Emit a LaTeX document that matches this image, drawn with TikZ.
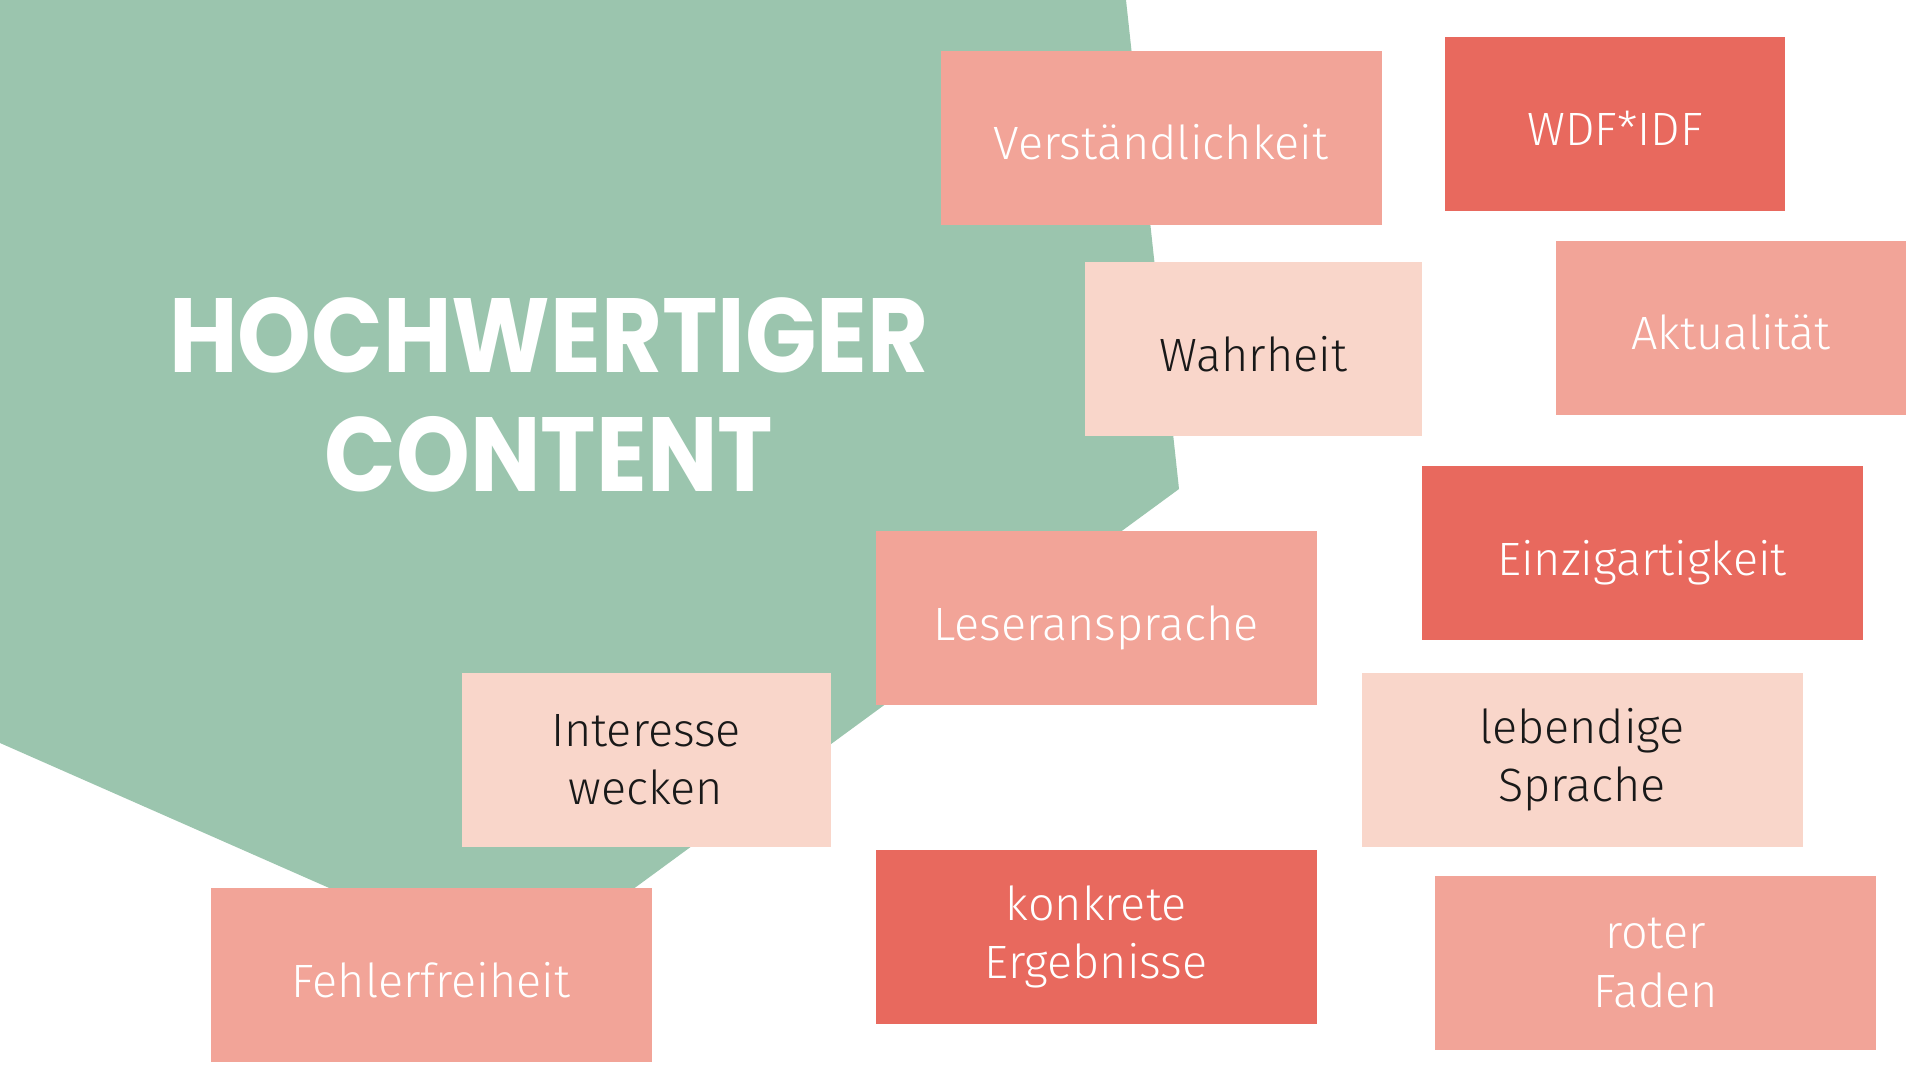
\documentclass[tikz,border=0pt]{standalone}
\usepackage{fontspec}
\setmainfont{Fira Sans Light}
\newfontfamily\headfont{Poppins}[FakeStretch=0.89]
\usetikzlibrary{positioning}

\begin{document}
\begin{tikzpicture}[line join=miter,
  tile/.style={rectangle, inner sep=0pt, minimum height=1.74cm,
    align=center, font=\fontsize{13.3}{16.6}\selectfont},
  oneline/.style={text height=0.44cm, text depth=0cm},
  tileRed/.style={tile, fill=tileR, text=white},
  tileSalmon/.style={tile, fill=tileS, text=white},
  tilePeach/.style={tile, fill=tileP, text=black!90}]
\definecolor{bgGreen}{HTML}{9BC5AE}
\definecolor{tileR}{HTML}{E8695E}
\definecolor{tileS}{HTML}{F2A498}
\definecolor{tileP}{HTML}{F9D6CA}
% ---- canvas ----
\useasboundingbox (0,0) rectangle (19.2,-10.8);
\fill[white] (0,0) rectangle (19.2,-10.8);
% ---- green backdrop ----
\fill[bgGreen] (0,0) -- (11.26,0) -- (11.79,-4.89) -- (5.20,-9.72)
  -- (0,-7.43) -- cycle;
\node[font=\headfont\bfseries\fontsize{30}{34}\selectfont,
  text=white, align=center] (title) at (5.49,-3.95)
  {HOCHWERTIGER\\CONTENT};
% ---- tiles, top row ----
\node[tileSalmon, oneline, minimum width=4.41cm] (verst) at (11.61,-1.38)
  {Verständlichkeit};
\node[tileRed, oneline, minimum width=3.40cm] (wdf) at (16.15,-1.24)
  {WDF*IDF};
\node[tilePeach, oneline, minimum width=3.37cm] (wahr) at (12.535,-3.49)
  {Wahrheit};
\node[tileSalmon, oneline, minimum width=3.50cm] (aktu) at (17.31,-3.28)
  {Aktualität};
% ---- tiles, middle ----
\node[tileRed, oneline, minimum width=4.41cm] (einz) at (16.42,-5.53)
  {Einzigartigkeit};
\node[tileSalmon, oneline, minimum width=4.41cm] (leser) at (10.96,-6.18)
  {Leseransprache};
\node[tilePeach, minimum width=3.69cm] (inter) at (6.46,-7.60)
  {Interesse\\wecken};
\node[tilePeach, minimum width=4.41cm] (leb) at (15.82,-7.60)
  {lebendige\\Sprache};
% ---- tiles, bottom row ----
\node[tileSalmon, oneline, minimum width=4.41cm] (fehler) at (4.31,-9.75)
  {Fehlerfreiheit};
\node[tileRed, minimum width=4.41cm] (konk) at (10.96,-9.37)
  {konkrete\\Ergebnisse};
\node[tileSalmon, minimum width=4.41cm] (roter) at (16.555,-9.63)
  {roter\\Faden};
\end{tikzpicture}
\end{document}
